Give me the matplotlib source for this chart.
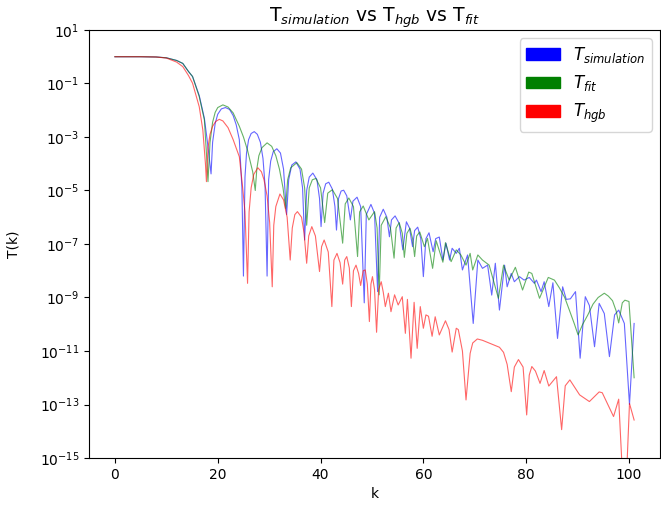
import numpy as np
import matplotlib
matplotlib.use("Agg")
import matplotlib.pyplot as plt
import matplotlib.patches as mpatches

# values, stored as (k, log10 T)
k_sim = [0, 5, 8, 10, 12, 13.2, 14.3, 15.1, 16.4, 17.4, 18.0, 18.7, 19.0, 19.5, 20.0, 20.7, 21.5, 22.3, 23.0, 23.6,
         24.2, 24.7, 25.0, 25.3, 25.6, 26.0, 26.5, 27.1, 27.7, 28.3, 28.8, 29.2, 29.6, 29.9, 30.3, 30.8, 31.5, 32.2,
         32.8, 33.4, 33.8, 34.4, 35.2, 36.0, 36.5, 36.9, 37.3, 37.8, 38.5, 39.3, 39.8, 40.1, 40.5, 41.0, 41.6, 42.3,
         42.8, 43.1, 43.5, 44.0, 44.5, 45.1, 45.8, 46.3, 47.1, 47.8, 48.5, 48.9, 49.8, 50.5, 51.1, 51.5, 52.2, 52.9,
         53.4, 53.8, 54.5, 55.3, 56.0, 56.7, 57.3, 57.9, 58.3, 58.9, 59.5, 60.0, 60.5, 61.1, 61.9, 62.4, 63.1, 63.8,
         64.4, 65.1, 65.6, 66.4, 67.0, 67.6, 68.6, 69.7, 70.6, 71.5, 72.5, 73.3, 74.0, 74.8, 75.8, 76.3, 77.1, 77.7,
         78.7, 79.6, 80.6, 81.6, 82.0, 82.9, 83.5, 84.4, 85.2, 86.1, 87.1, 87.8, 88.6, 89.6, 90.5, 91.5, 92.3, 93.3,
         94.2, 95.2, 96.2, 97.2, 98.0, 98.5, 99.1, 100.1, 101.0]
logT_sim = [0, 0, -0.01, -0.04, -0.14, -0.25, -0.55, -0.74, -1.45, -2.3, -3.2, -4.38, -3.2, -2.5, -2.15, -1.95, -1.9,
            -1.97, -2.2, -2.55, -3.1, -4.9, -8.2, -4.5, -3.6, -3.1, -2.87, -2.8, -2.9, -3.2, -3.8, -4.8, -8.2, -4.6,
            -3.9, -3.55, -3.44, -3.6, -4.2, -5.9, -4.6, -4.05, -3.93, -4.2, -4.9, -6.85, -5.0, -4.5, -4.35, -4.6,
            -5.3, -6.35, -5.1, -4.75, -4.69, -4.95, -5.6, -6.48, -5.3, -5.02, -4.99, -5.2, -6.1, -5.4, -5.25, -5.6,
            -9.2, -5.9, -5.52, -5.85, -8.78, -6.0, -5.7, -6.0, -6.73, -6.1, -5.95, -6.23, -7.22, -6.17, -6.4, -7.1,
            -6.5, -6.37, -6.8, -8.22, -6.8, -6.58, -7.29, -6.8, -6.74, -7.6, -6.97, -7.6, -7.16, -7.35, -7.16, -7.97,
            -7.41, -9.97, -7.6, -7.91, -7.79, -8.91, -7.72, -9.47, -7.79, -8.6, -8.1, -8.41, -8.22, -8.35, -8.25,
            -8.47, -8.35, -8.78, -8.41, -9.34, -8.45, -10.53, -8.6, -9.07, -9.05, -8.78, -11.27, -8.97, -9.3, -10.84,
            -9.22, -9.6, -11.21, -9.65, -9.47, -9.7, -9.97, -13.0, -9.97]

k_fit = [0, 5, 8, 10, 12, 13.2, 14.3, 15.1, 16.4, 17.4, 17.8, 18.1, 18.5, 19.0, 19.5, 20.0, 21.0, 22.0, 23.0, 24.2,
         25.0, 25.8, 26.8, 27.3, 27.6, 28.0, 28.6, 29.6, 30.5, 31.3, 32.0, 32.7, 33.2, 33.6, 34.2, 35.4, 36.3, 36.9,
         37.3, 37.8, 38.4, 39.1, 40.0, 40.8, 41.4, 42.3, 43.3, 44.3, 44.8, 45.5, 46.4, 47.2, 47.6, 48.3, 49.4, 50.5,
         51.0, 51.4, 51.8, 52.7, 53.6, 54.3, 54.7, 55.3, 55.9, 56.3, 56.8, 57.4, 57.9, 58.3, 58.7, 59.3, 60.2, 60.8,
         61.8, 62.5, 63.8, 64.3, 65.4, 66.4, 67.3, 68.3, 69.1, 69.6, 70.6, 71.5, 72.8, 74.6, 75.6, 76.7, 77.9, 79.3,
         80.5, 81.1, 82.6, 84.3, 85.5, 86.5, 87.5, 88.4, 89.4, 90.1, 91.0, 92.0, 93.0, 94.0, 95.2, 96.0, 96.8, 97.5,
         98.0, 98.7, 99.2, 100.0, 101.0]
logT_fit = [0, 0, -0.01, -0.04, -0.14, -0.25, -0.55, -0.74, -1.49, -2.36, -3.61, -4.67, -3.2, -2.45, -2.08, -1.9,
            -1.8, -1.88, -2.1, -2.6, -3.0, -3.5, -4.3, -5.0, -4.2, -3.7, -3.4, -3.22, -3.35, -3.7, -4.2, -4.9, -5.67,
            -4.6, -4.15, -3.96, -4.2, -4.9, -6.3, -4.9, -4.6, -4.55, -4.9, -6.2, -5.1, -4.97, -5.3, -6.97, -5.5,
            -5.28, -5.6, -7.47, -5.8, -5.58, -6.1, -5.79, -6.4, -8.9, -6.3, -5.98, -6.4, -7.53, -6.4, -6.2, -6.6,
            -7.5, -6.6, -6.41, -6.8, -7.47, -6.7, -6.55, -7.1, -6.79, -7.91, -6.88, -7.68, -6.95, -7.66, -7.22, -7.41,
            -7.79, -7.35, -7.97, -7.41, -7.6, -7.79, -9.03, -7.79, -8.35, -7.87, -8.72, -8.05, -8.1, -9.03, -8.25,
            -8.35, -8.65, -9.0, -9.47, -10.0, -10.4, -10.0, -9.65, -9.25, -9.0, -8.84, -8.95, -9.12, -9.5, -9.95,
            -9.2, -9.1, -9.15, -12.0]

k_hgb = [0, 5, 8, 10, 12, 13.2, 14.3, 15.1, 16.4, 17.1, 17.6, 17.8, 18.1, 18.5, 19.0, 19.6, 20.3, 21.0, 22.0, 23.0,
         24.2, 24.8, 25.3, 25.8, 26.1, 26.5, 27.0, 27.8, 28.5, 29.0, 29.6, 30.1, 30.6, 30.9, 31.3, 32.1, 32.8, 33.5,
         34.1, 34.5, 35.0, 35.5, 36.3, 36.8, 37.3, 37.7, 38.3, 39.0, 39.8, 40.2, 40.7, 41.5, 42.2, 42.6, 43.2, 43.8,
         44.3, 44.7, 45.1, 45.6, 46.0, 46.4, 46.9, 47.4, 47.8, 48.3, 48.7, 49.1, 49.5, 49.8, 50.1, 50.5, 50.9, 51.3,
         51.8, 52.2, 52.6, 53.2, 53.7, 54.4, 55.1, 55.9, 56.5, 56.9, 57.6, 58.2, 58.8, 59.4, 60.0, 60.5, 61.0, 61.7,
         62.3, 63.1, 64.3, 65.0, 65.6, 66.4, 66.8, 67.6, 68.3, 69.1, 69.6, 70.5, 71.5, 73.0, 74.8, 75.6, 76.3, 77.1,
         77.7, 78.5, 79.4, 80.1, 80.6, 81.1, 81.8, 82.7, 83.5, 84.4, 85.9, 86.9, 87.6, 88.5, 90.4, 92.3, 94.2, 94.8,
         97.0, 98.0, 98.7, 99.5, 100.1, 101.0]
logT_hgb = [0, 0, -0.01, -0.05, -0.2, -0.37, -0.7, -0.99, -1.87, -2.74, -3.98, -4.67, -3.4, -2.9, -2.6, -2.42, -2.34,
            -2.4, -2.65, -3.1, -3.74, -4.8, -5.8, -8.47, -5.8, -4.9, -4.4, -4.15, -4.3, -4.6, -5.2, -6.2, -8.6, -6.3,
            -5.6, -5.13, -5.35, -6.0, -7.6, -6.4, -5.9, -5.79, -6.0, -6.6, -7.72, -6.7, -6.35, -6.7, -8.03, -7.1,
            -6.85, -7.3, -9.34, -7.6, -7.35, -7.7, -8.5, -7.6, -7.47, -7.9, -9.34, -8.0, -7.79, -8.1, -8.55, -8.0,
            -7.97, -8.5, -9.9, -8.5, -8.22, -8.7, -10.3, -8.7, -8.41, -8.8, -9.34, -8.84, -9.53, -8.9, -9.28, -8.97,
            -10.34, -9.07, -11.27, -9.18, -10.9, -9.34, -10.15, -9.65, -9.7, -10.45, -9.72, -10.4, -9.87, -10.2,
            -11.04, -10.15, -10.2, -11.0, -12.83, -11.09, -10.7, -10.55, -10.6, -10.72, -10.86, -11.05, -11.5,
            -12.52, -11.6, -11.32, -11.6, -13.39, -11.9, -11.58, -11.75, -12.21, -11.73, -12.31, -11.96, -13.94,
            -12.3, -12.08, -12.64, -12.89, -12.53, -12.56, -13.45, -12.8, -15.5, -15.8, -12.96, -13.58]

fig = plt.figure(figsize=(6.61, 5.08), dpi=100)
ax = fig.add_axes([0.1346, 0.0984, 0.864, 0.8426])

ax.plot(k_sim, 10.0 ** np.array(logT_sim), color='blue', lw=0.8, alpha=0.6)
ax.plot(k_fit, 10.0 ** np.array(logT_fit), color='green', lw=0.8, alpha=0.6)
ax.plot(k_hgb, 10.0 ** np.array(logT_hgb), color='red', lw=0.8, alpha=0.6)

ax.set_yscale('log')
ax.set_ylim(1e-15, 1e1)
ax.set_xlim(-5.05, 106.05)
ax.set_xlabel('k')
ax.set_ylabel('T(k)', labelpad=14)
ax.set_title('T$_{simulation}$ vs T$_{hgb}$ vs T$_{fit}$', fontsize=13.5)

handles = [mpatches.Patch(color='blue', label='$T_{simulation}$'),
           mpatches.Patch(color='green', label='$T_{fit}$'),
           mpatches.Patch(color='red', label='$T_{hgb}$')]
ax.legend(handles=handles, loc='upper right', fontsize=12)

fig.savefig('out.png', dpi=100)
